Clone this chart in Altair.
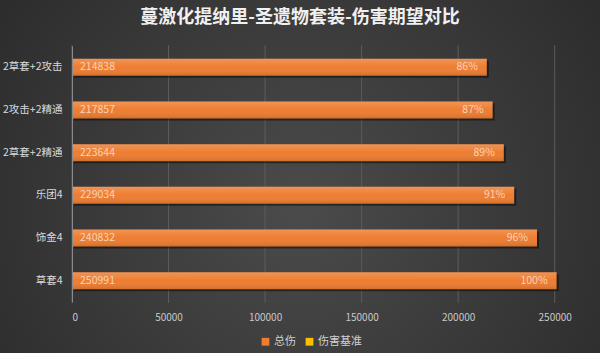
import altair as alt
import pandas as pd

title_text = "蔓激化提纳里-圣遗物套装-伤害期望对比"
categories = ["2草套+2攻击", "2攻击+2精通", "2草套+2精通", "乐团4", "饰金4", "草套4"]
damage = [214838, 217857, 223644, 229034, 240832, 250991]
pct_labels = ["86%", "87%", "89%", "91%", "96%", "100%"]
x_ticks = [0, 50000, 100000, 150000, 200000, 250000]
legend_names = ["总伤", "伤害基准"]
legend_colors = ["#ED7D31", "#FFC000"]

df = pd.DataFrame({"cat": categories, "val": damage, "pct": pct_labels, "series": "总伤"})
ticks_df = pd.DataFrame({"t": x_ticks})

FONT = "Noto Sans CJK SC"
W, H = 502, 256
PL, PT = 72, 46

xs = alt.Scale(domain=[0, 260000], nice=False, zero=True)
ys = alt.Scale(domain=categories, paddingInner=0.6, paddingOuter=0.3)

bg = alt.Chart(alt.Data(values=[{}])).mark_rect(
    fill={"gradient": "radial", "x1": 0.5, "y1": 0.55, "r1": 0, "x2": 0.5, "y2": 0.55, "r2": 0.75,
          "stops": [{"offset": 0, "color": "#4b4b4b"}, {"offset": 1, "color": "#252525"}]},
    clip=False,
).encode(x=alt.value(-PL), x2=alt.value(600 - PL), y=alt.value(-PT), y2=alt.value(353 - PT))

title = alt.Chart(alt.Data(values=[{"t": title_text}])).mark_text(
    font=FONT, fontSize=18, fontWeight="bold", color="#f0f0f0", baseline="middle", align="center"
).encode(x=alt.value(300 - PL), y=alt.value(18 - PT), text="t:N")

grid = alt.Chart(ticks_df).mark_rule(color="#5c5c5c", strokeWidth=1).encode(
    x=alt.X("t:Q", scale=xs), y=alt.value(-1), y2=alt.value(H + 1)
)

base = alt.Chart(df)

shadow = base.mark_bar(color="#000000", opacity=0.45, xOffset=2, yOffset=2).encode(
    x=alt.X("val:Q", scale=xs), y=alt.Y("cat:N", scale=ys)
)

bars = base.mark_bar().encode(
    x=alt.X("val:Q", scale=xs, title=None,
            axis=alt.Axis(values=x_ticks, format="d", grid=False, zindex=1,
                          domain=False, ticks=False, labelColor="#c8c8c8", labelFont=FONT,
                          labelFontSize=10, labelPadding=10)),
    y=alt.Y("cat:N", scale=ys, title=None,
            axis=alt.Axis(domain=True, domainColor="#8a8a8a", domainWidth=1, ticks=False, zindex=1,
                          labelColor="#dadada", labelFont=FONT, labelFontSize=10.5, labelPadding=10)),
    color=alt.Color("series:N", scale=alt.Scale(domain=legend_names, range=legend_colors),
                    legend=alt.Legend(title=None, orient="none", direction="horizontal",
                                      legendX=188, legendY=290, symbolType="square", symbolSize=60,
                                      symbolStrokeWidth=0, symbolOpacity=1, labelColor="#d0d0d0",
                                      labelFont=FONT, labelFontSize=11, columnPadding=8,
                                      labelOffset=3, zindex=1)),
)

shine = base.mark_bar(
    fill={"gradient": "linear", "x1": 0, "y1": 0, "x2": 0, "y2": 1,
          "stops": [{"offset": 0, "color": "rgba(255,255,255,0.18)"},
                    {"offset": 0.5, "color": "rgba(255,255,255,0.0)"},
                    {"offset": 1, "color": "rgba(0,0,0,0.12)"}]}
).encode(x=alt.X("val:Q", scale=xs), y=alt.Y("cat:N", scale=ys))

val_text = base.mark_text(align="left", dx=8, font=FONT, fontSize=10.5, color="#fbd3b5").encode(
    x=alt.datum(0), y=alt.Y("cat:N", scale=ys), text="val:Q"
)
pct_text = base.mark_text(align="right", dx=-9, font=FONT, fontSize=10.5, color="#fbd3b5").encode(
    x=alt.X("val:Q", scale=xs), y=alt.Y("cat:N", scale=ys), text="pct:N"
)

chart = alt.layer(bg, title, grid, shadow, bars, shine, val_text, pct_text).properties(
    width=W, height=H,
    autosize=alt.AutoSizeParams(type="none"),
    padding={"left": PL, "top": PT, "right": 600 - PL - W, "bottom": 353 - PT - H},
    background="#2b2b2b",
).configure_view(stroke=None)

chart.save("out.html", embed_options={"renderer": "svg", "actions": False})
